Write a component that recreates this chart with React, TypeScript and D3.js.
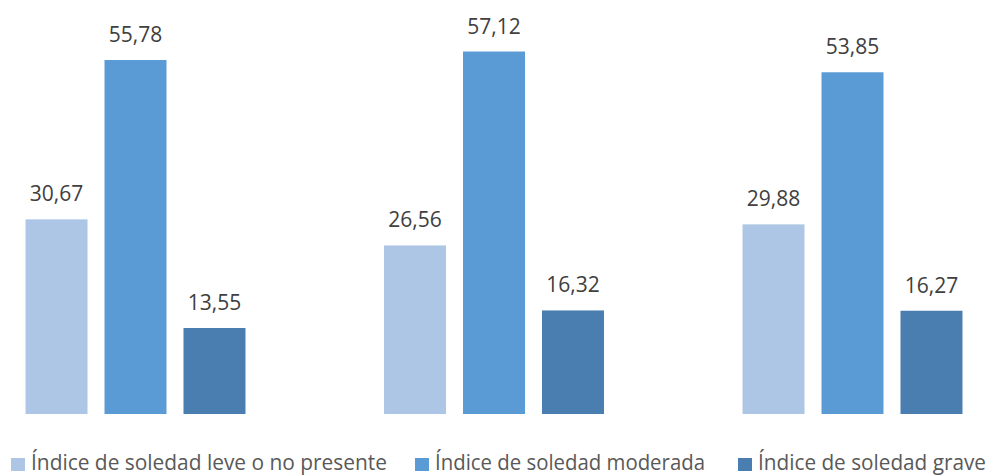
import React from "react";
import * as d3 from "d3";

const groups = ["Grupo 1", "Grupo 2", "Grupo 3"];
const series = [
  "Índice de soledad leve o no presente",
  "Índice de soledad moderada",
  "Índice de soledad grave",
];
const leve = [30.67, 26.56, 29.88];
const moderada = [55.78, 57.12, 53.85];
const grave = [13.55, 16.32, 16.27];
const colors = ["#AEC6E6", "#5B9BD5", "#4A7EB0"];

const W = 988;
const H = 476;
const legendX = [11, 415, 738];
const legendTextW = [356, 270, 228];

export default function App() {
  const values = [leve, moderada, grave];
  const x0 = d3.scaleBand<string>().domain(groups).range([-43.75, 1031.75]).padding(0);
  const x1 = d3
    .scaleBand<string>()
    .domain(series)
    .range([0, x0.bandwidth()])
    .paddingInner(17 / 79)
    .paddingOuter(0.877);
  const y = d3.scaleLinear().domain([0, 60]).range([414, 414 - 60 * 6.346]);
  const fmt = (v: number) => v.toFixed(2).replace(".", ",");

  return (
    <svg
      width={W}
      height={H}
      style={{ position: "absolute", left: 0, top: 0, background: "#fff" }}
      fontFamily="'Open Sans', sans-serif"
    >
      {groups.map((g, gi) => (
        <g key={g} transform={`translate(${x0(g)},0)`}>
          {series.map((s, si) => {
            const v = values[si][gi];
            const bx = x1(s)!;
            return (
              <g key={s}>
                <rect
                  x={bx}
                  y={y(v)}
                  width={x1.bandwidth()}
                  height={y(0) - y(v)}
                  fill={colors[si]}
                />
                <text
                  x={bx + x1.bandwidth() / 2}
                  y={y(v) - 18}
                  textAnchor="middle"
                  fontSize={21}
                  fill="#404040"
                >
                  {fmt(v)}
                </text>
              </g>
            );
          })}
        </g>
      ))}
      {series.map((s, si) => (
        <g key={s} transform={`translate(${legendX[si]},0)`}>
          <rect x={0} y={458} width={14} height={13} fill={colors[si]} />
          <text
            x={20}
            y={470}
            fontSize={21}
            fill="#595959"
            textLength={legendTextW[si]}
            lengthAdjust="spacingAndGlyphs"
          >
            {s}
          </text>
        </g>
      ))}
    </svg>
  );
}
